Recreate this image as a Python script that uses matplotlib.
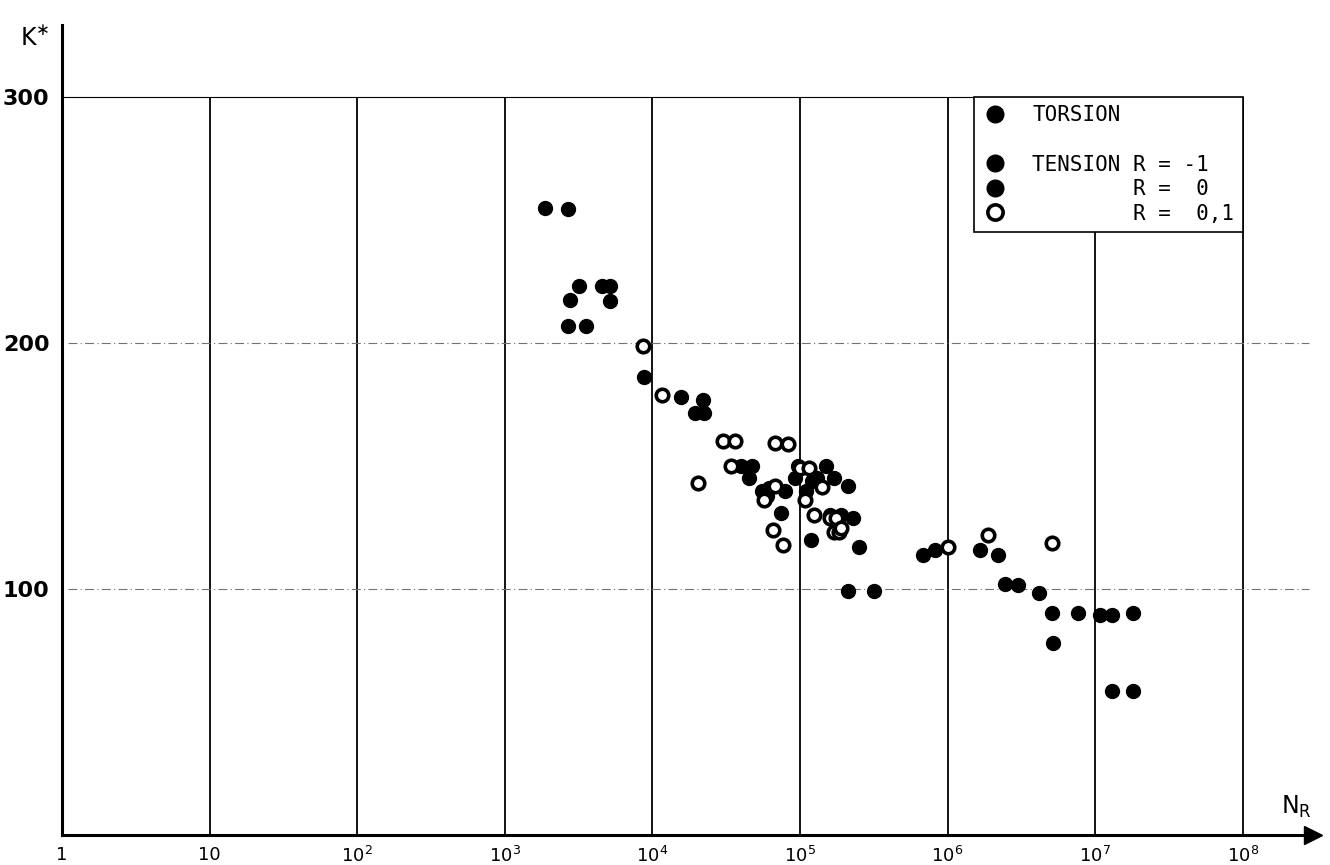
import numpy as np
import matplotlib
matplotlib.use("Agg")
import matplotlib.pyplot as plt
from matplotlib.lines import Line2D

# filled symbols (torsion, tension R=-1, R=0 - not distinguishable in the scan)
n_full = [1870, 2680, 3190, 2770, 4560, 5160, 5160, 2680, 3550, 8770,
          15600, 22000, 19400, 22400,
          45000, 40000, 47000, 55000, 62000, 60000,
          74000, 79000, 93000, 97000, 110000, 118000, 120000, 130000, 150000,
          170000, 190000, 210000, 160000, 230000, 210000, 317000, 250000,
          680000, 820000, 1660000, 2190000, 2450000, 3000000, 4160000,
          5100000, 7640000, 10800000, 13000000, 18000000,
          5200000, 13000000, 18000000]
k_full = [255, 254.5, 223, 217.5, 223, 223, 217, 207, 207, 186,
          178, 177, 171.5, 171.5,
          145, 150, 150, 140, 141, 138,
          131, 140, 145, 150, 140, 120, 144, 145, 150,
          145, 130, 142, 130, 129, 99, 99, 117,
          113.8, 115.9, 115.9, 113.8, 102, 101.6, 98.4,
          90.2, 90.2, 89.4, 89.4, 90.2,
          78, 58.5, 58.5]

# open symbols (tension R = 0,1)
n_open = [8630, 11600, 20500, 30100, 36300, 34000, 66000, 77000, 57000,
          68000, 67900, 83000,
          100000, 115000, 125000, 108000, 140000, 170000, 185000,
          160000, 175000, 190000, 1000000, 1880000, 5100000]
k_open = [199, 179, 143, 160, 160, 150, 124, 118, 136,
          142, 159.5, 159,
          149, 149, 130, 136,
          141.5, 123, 123, 129, 129, 125, 117, 122, 118.7]

fig = plt.figure(figsize=(13.3, 8.65), dpi=100)
ax = fig.add_axes([62 / 1330, 30 / 865, 1251 / 1330, 810 / 865])
ax.set_xscale("log")
ax.set_xlim(1, 10 ** 8.476)
ax.set_ylim(0, 329.3)

for s in ["top", "right"]:
    ax.spines[s].set_visible(False)
for s in ["left", "bottom"]:
    ax.spines[s].set_linewidth(2.2)
ax.plot(1, 0, ">k", ms=13, transform=ax.get_yaxis_transform(), clip_on=False)
ax.plot(0, 1, "^k", ms=13, transform=ax.get_xaxis_transform(), clip_on=False)

# grid
decades = [10 ** i for i in range(1, 9)]
ax.vlines(decades, 0, 300, color="black", lw=1.3, zorder=1)
ax.hlines(300, 1, 1e8, color="black", lw=0.8, zorder=1)
ax.hlines([100, 200], 1.1, 10 ** 8.45, color="0.45", lw=0.8,
          linestyles=(0, (8, 3, 1, 3)), zorder=1)

ax.plot(n_full, k_full, "o", color="black", ms=10, zorder=3)
ax.plot(n_open, k_open, "o", mfc="white", mec="black", mew=2.6, ms=9, zorder=4)

xt = [1, 10] + [10 ** i for i in range(2, 9)]
xl = ["1", "10"] + [r"$\mathregular{10^{%d}}$" % i for i in range(2, 9)]
ax.set_xticks(xt)
ax.set_xticklabels(xl, fontsize=13)
ax.xaxis.set_minor_locator(matplotlib.ticker.NullLocator())
ax.set_yticks([100, 200, 300])
ax.set_yticklabels(["100", "200", "300"], fontsize=16, fontweight="bold")
ax.tick_params(length=0)
ax.tick_params(axis="x", pad=8)
ax.tick_params(axis="y", pad=9)

ax.text(-0.022, 0.984, r"K$^{\ast}$", transform=ax.transAxes, fontsize=17,
        ha="center", va="center")
ax.text(0.987, 0.035, r"N$_\mathregular{R}$", transform=ax.transAxes,
        fontsize=17, ha="center", va="center")

# legend
handles = [Line2D([], [], ls="", marker="o", color="black", ms=12),
           Line2D([], [], ls="", marker=None),
           Line2D([], [], ls="", marker="o", color="black", ms=12),
           Line2D([], [], ls="", marker="o", color="black", ms=12),
           Line2D([], [], ls="", marker="o", mfc="white", mec="black", mew=2.6, ms=11)]
labels = ["TORSION", " ", "TENSION R = -1", "        R =  0", "        R =  0,1"]
leg = ax.legend(handles, labels, loc="upper right",
                bbox_to_anchor=(1e8, 300), bbox_transform=ax.transData,
                prop={"family": "DejaVu Sans Mono", "size": 15},
                fancybox=False, framealpha=1, edgecolor="black",
                borderaxespad=0, handletextpad=1.2, handlelength=1.2,
                labelspacing=0.22, borderpad=0.4)
leg.get_frame().set_linewidth(1.2)

fig.savefig("out.png", dpi=100)
